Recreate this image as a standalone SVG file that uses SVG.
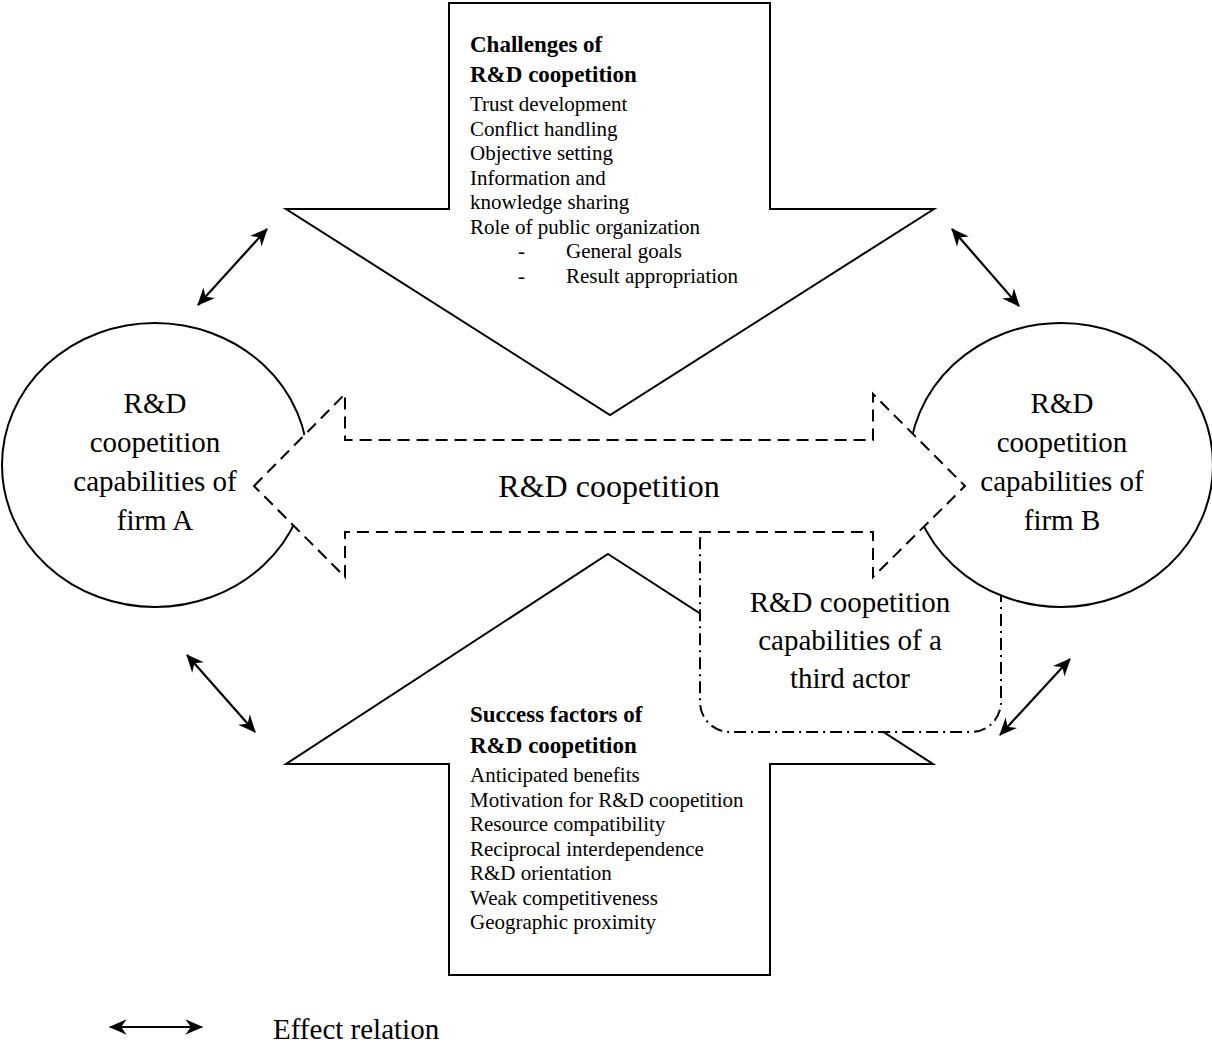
<svg xmlns="http://www.w3.org/2000/svg" width="1212" height="1044" viewBox="0 0 1212 1044">
  <style>
    .shape { fill: #fff; stroke: #000; stroke-width: 2; stroke-linejoin: miter; }
    .dashed { fill: #fff; stroke: #000; stroke-width: 2; stroke-dasharray: 12 7; }
    .dashdot { fill: #fff; stroke: #000; stroke-width: 2; stroke-dasharray: 12 5 2 5; }
    .big { font-family: "Liberation Serif", "Times New Roman", serif; font-size: 29px; fill: #000; }
    .mid { text-anchor: middle; }
    .body { font-family: "Liberation Serif", "Times New Roman", serif; font-size: 21px; fill: #000; }
    .head { font-family: "Liberation Serif", "Times New Roman", serif; font-size: 23px; font-weight: bold; fill: #000; }
    .rel { stroke: #000; stroke-width: 2.2; fill: none; marker-start: url(#head); marker-end: url(#head); }
  </style>
  <defs>
    <marker id="head" markerUnits="userSpaceOnUse" markerWidth="20" markerHeight="20" refX="0" refY="0" viewBox="-16 -8 18 16" orient="auto-start-reverse">
      <path d="M1,0 L-15,-7 L-10,0 L-15,7 Z" fill="#000"/>
    </marker>
  </defs>

  <!-- Success factors: upward block arrow -->
  <g id="success-factors">
    <polygon class="shape" points="608,554 933,764 770,764 770,975 449,975 449,764 286,764"/>
    <text class="head" x="470" y="722">Success factors of</text>
    <text class="head" x="470" y="753">R&amp;D coopetition</text>
    <text class="body" x="470" y="782">Anticipated benefits</text>
    <text class="body" x="470" y="806.5">Motivation for R&amp;D coopetition</text>
    <text class="body" x="470" y="831">Resource compatibility</text>
    <text class="body" x="470" y="855.5">Reciprocal interdependence</text>
    <text class="body" x="470" y="880">R&amp;D orientation</text>
    <text class="body" x="470" y="904.5">Weak competitiveness</text>
    <text class="body" x="470" y="929">Geographic proximity</text>
  </g>

  <!-- Third actor: dash-dot rounded box -->
  <g id="third-actor">
    <rect class="dashdot" x="700" y="512" width="301" height="220" rx="30" ry="30"/>
    <text class="big mid" x="850" y="612">R&amp;D coopetition</text>
    <text class="big mid" x="850" y="650">capabilities of a</text>
    <text class="big mid" x="850" y="688">third actor</text>
  </g>

  <!-- Firm A -->
  <g id="firm-a">
    <ellipse class="shape" cx="155" cy="465" rx="153" ry="142"/>
    <text class="big mid" x="155" y="413">R&amp;D</text>
    <text class="big mid" x="155" y="452">coopetition</text>
    <text class="big mid" x="155" y="491">capabilities of</text>
    <text class="big mid" x="155" y="530">firm A</text>
  </g>

  <!-- Firm B -->
  <g id="firm-b">
    <ellipse class="shape" cx="1061" cy="465" rx="152" ry="142"/>
    <text class="big mid" x="1062" y="413">R&amp;D</text>
    <text class="big mid" x="1062" y="452">coopetition</text>
    <text class="big mid" x="1062" y="491">capabilities of</text>
    <text class="big mid" x="1062" y="530">firm B</text>
  </g>

  <!-- R&D coopetition: dashed double-headed block arrow -->
  <g id="coopetition">
    <polygon class="dashed" points="254,486 345,394 345,440 873,440 873,394 965,486 873,577 873,532 345,532 345,577"/>
    <text class="big mid" x="609" y="497" style="font-size:32px">R&amp;D coopetition</text>
  </g>

  <!-- Challenges: downward block arrow -->
  <g id="challenges">
    <polygon class="shape" points="449,3 770,3 770,209 934,209 610,415 286,209 449,209"/>
    <text class="head" x="470" y="52">Challenges of</text>
    <text class="head" x="470" y="82">R&amp;D coopetition</text>
    <text class="body" x="470" y="111">Trust development</text>
    <text class="body" x="470" y="135.5">Conflict handling</text>
    <text class="body" x="470" y="160">Objective setting</text>
    <text class="body" x="470" y="184.5">Information and</text>
    <text class="body" x="470" y="209">knowledge sharing</text>
    <text class="body" x="470" y="233.5">Role of public organization</text>
    <text class="body" x="518" y="258">-</text>
    <text class="body" x="566" y="258">General goals</text>
    <text class="body" x="518" y="282.5">-</text>
    <text class="body" x="566" y="282.5">Result appropriation</text>
  </g>

  <!-- Effect relations -->
  <g id="connectors">
    <line class="rel" x1="198" y1="305" x2="267" y2="229"/>
    <line class="rel" x1="952" y1="229" x2="1019" y2="306"/>
    <line class="rel" x1="187" y1="655" x2="255" y2="732"/>
    <line class="rel" x1="1000" y1="735" x2="1070" y2="659"/>
  </g>

  <!-- Legend -->
  <g id="legend">
    <line class="rel" x1="110" y1="1027" x2="202" y2="1027"/>
    <text class="big" x="273" y="1039">Effect relation</text>
  </g>
</svg>
